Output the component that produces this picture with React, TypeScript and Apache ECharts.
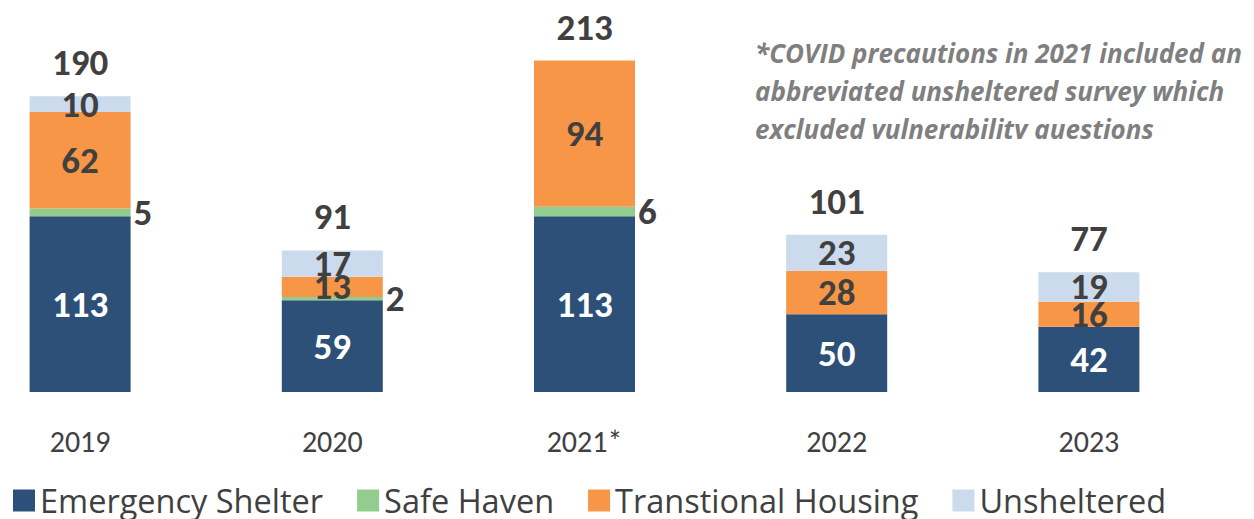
import React, { useEffect, useRef } from "react";
import * as echarts from "echarts";

const categories = ["2019", "2020", "2021*", "2022", "2023"];
const emergencyShelter = [113, 59, 113, 50, 42];
const safeHaven = [5, 2, 6, 0, 0];
const transitionalHousing = [62, 13, 94, 28, 16];
const unsheltered = [10, 17, 0, 23, 19];
const totals = [190, 91, 213, 101, 77];
const noteLines = [
  "*COVID precautions in 2021 included an",
  "abbreviated unsheltered survey which",
  "excluded vulnerability questions",
];

const FONT = "Carlito, Lato, 'Open Sans', sans-serif";
const FONT2 = "'Open Sans', sans-serif";
const DARK = "#404040";
const SHIFT = 46;

export default function App() {
  const ref = useRef<HTMLDivElement>(null);
  useEffect(() => {
    if (!ref.current) return;
    const chart = echarts.init(ref.current, null, { renderer: "svg" });
    const hideZero = (p: any) => (p.value ? String(p.value) : "");
    const lbl = (color: string, position: any) => ({
      show: true,
      position,
      color,
      fontFamily: FONT,
      fontWeight: "bold",
      fontSize: 37,
      formatter: hideZero,
    });
    const BW = 101;
    chart.setOption({
      animation: false,
      textStyle: { fontFamily: FONT },
      grid: { left: 0, width: 1261, top: 3, height: 389 },
      xAxis: {
        type: "category",
        data: categories,
        axisLine: { show: false },
        axisTick: { show: false },
        axisLabel: { color: DARK, fontSize: 30, fontFamily: FONT, margin: 34 },
      },
      yAxis: { type: "value", min: 0, max: 250, show: false, splitLine: { show: false } },
      legend: {
        left: 8 + SHIFT,
        top: 479,
        itemWidth: 22,
        itemHeight: 22,
        itemGap: 34,
        icon: "rect",
        textStyle: { color: DARK, fontSize: 32.5, lineHeight: 22, fontFamily: FONT2, padding: [0, 0, 0, 0] },
        data: ["Emergency Shelter", "Safe Haven", "Transtional Housing", "Unsheltered"],
      },
      series: [
        {
          name: "Emergency Shelter",
          type: "bar",
          stack: "t",
          barWidth: BW,
          barGap: "-100%",
          data: emergencyShelter,
          itemStyle: { color: "#2D5079" },
          label: lbl("#ffffff", "inside"),
        },
        {
          name: "Safe Haven",
          type: "bar",
          stack: "t",
          barWidth: BW,
          data: safeHaven,
          itemStyle: { color: "#92CC8E" },
          label: { ...lbl(DARK, "right"), distance: 3 },
        },
        {
          name: "Transtional Housing",
          type: "bar",
          stack: "t",
          barWidth: BW,
          data: transitionalHousing,
          itemStyle: { color: "#F79646" },
          label: lbl(DARK, "inside"),
        },
        {
          name: "Unsheltered",
          type: "bar",
          stack: "t",
          barWidth: BW,
          data: unsheltered,
          itemStyle: { color: "#CBDAEC" },
          label: lbl(DARK, "inside"),
        },
        {
          name: "Total",
          type: "bar",
          barWidth: BW,
          barGap: "-100%",
          data: totals,
          z: 0,
          silent: true,
          itemStyle: { color: "rgba(0,0,0,0)" },
          label: { ...lbl(DARK, "top"), distance: 15 },
        },
      ],
      graphic: [
        {
          type: "text",
          left: 755 + SHIFT,
          top: 34,
          z: 10,
          style: {
            text: noteLines.join("\n"),
            fill: "#7F7F7F",
            fontFamily: FONT2,
            fontStyle: "italic",
            fontWeight: "bold",
            fontSize: 26,
            lineHeight: 38,
          },
        },
        {
          type: "rect",
          z: 11,
          shape: { x: 740 + SHIFT, y: 139, width: 514, height: 14 },
          style: { fill: "#ffffff" },
        },
      ],
    });
    return () => chart.dispose();
  }, []);
  return (
    <div
      ref={ref}
      style={{ position: "absolute", left: -SHIFT, top: 0, width: 1254 + SHIFT, height: 519 }}
    />
  );
}
